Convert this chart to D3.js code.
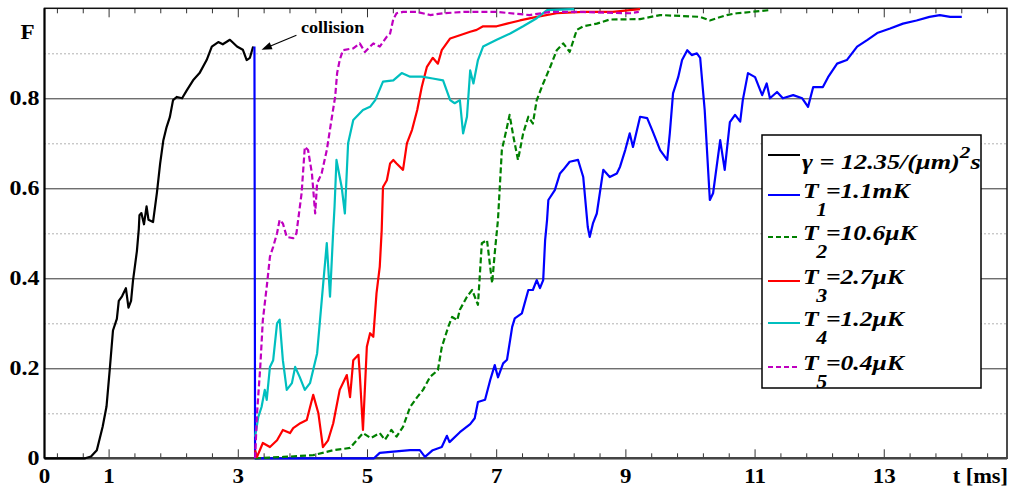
<!DOCTYPE html>
<html>
<head>
<meta charset="utf-8">
<script src="https://cdn.jsdelivr.net/npm/d3@7"></script>
<style>
  body { margin: 0; background: #fff; }
  text { font-family: "Liberation Serif", "Times New Roman", serif; font-weight: bold; }
</style>
</head>
<body>
<div id="chart"></div>
<script>
// tick labels
const xLabels = [0, 1, 3, 5, 7, 9, 11, 13];
const yLabels = [0, 0.2, 0.4, 0.6, 0.8];
const yMajorGrid = [0.2, 0.4, 0.6, 0.8];
const yMinorGrid = [0.1, 0.3, 0.5, 0.7, 0.9];

// curves: [t (ms), F]
const gammaCurve = [[0,0],[0.63,0],[0.72,0.004],[0.81,0.018],[0.9,0.07],[0.96,0.115],[1.01,0.197],[1.06,0.284],[1.12,0.31],[1.15,0.35],[1.2,0.36],[1.26,0.378],[1.3,0.335],[1.34,0.35],[1.37,0.395],[1.43,0.46],[1.46,0.51],[1.47,0.54],[1.5,0.545],[1.54,0.52],[1.58,0.56],[1.61,0.53],[1.68,0.525],[1.74,0.59],[1.79,0.655],[1.84,0.707],[1.89,0.736],[1.94,0.758],[1.99,0.796],[2.05,0.803],[2.13,0.8],[2.2,0.817],[2.3,0.84],[2.4,0.856],[2.51,0.885],[2.59,0.915],[2.69,0.925],[2.76,0.92],[2.87,0.93],[2.98,0.915],[3.07,0.908],[3.13,0.885],[3.18,0.89],[3.23,0.915]];

const t1Curve = [[3.25,0.915],[3.26,0],[5.1,0],[5.19,0.012],[5.4,0.015],[5.66,0.018],[5.81,0.018],[5.89,0.003],[6.01,0.018],[6.15,0.025],[6.23,0.05],[6.27,0.036],[6.43,0.058],[6.59,0.076],[6.66,0.089],[6.71,0.125],[6.82,0.13],[6.9,0.174],[6.97,0.207],[7.02,0.18],[7.1,0.211],[7.16,0.219],[7.24,0.292],[7.28,0.311],[7.39,0.322],[7.49,0.374],[7.56,0.374],[7.62,0.396],[7.67,0.378],[7.72,0.396],[7.75,0.485],[7.78,0.53],[7.8,0.574],[7.9,0.596],[7.98,0.633],[8.03,0.641],[8.13,0.659],[8.26,0.663],[8.34,0.625],[8.41,0.514],[8.44,0.492],[8.49,0.522],[8.55,0.544],[8.65,0.641],[8.75,0.625],[8.86,0.633],[8.91,0.648],[8.99,0.685],[9.06,0.722],[9.11,0.692],[9.22,0.759],[9.33,0.756],[9.42,0.725],[9.53,0.685],[9.64,0.663],[9.68,0.722],[9.73,0.811],[9.81,0.847],[9.87,0.885],[9.95,0.907],[10.02,0.896],[10.1,0.9],[10.15,0.89],[10.22,0.774],[10.3,0.574],[10.35,0.589],[10.46,0.707],[10.53,0.641],[10.61,0.747],[10.69,0.763],[10.77,0.748],[10.81,0.796],[10.89,0.856],[11,0.847],[11.11,0.807],[11.18,0.833],[11.23,0.8],[11.34,0.814],[11.43,0.8],[11.59,0.807],[11.73,0.8],[11.82,0.781],[11.9,0.825],[12.05,0.825],[12.13,0.847],[12.27,0.877],[12.42,0.885],[12.58,0.915],[12.74,0.93],[12.89,0.945],[13.09,0.955],[13.29,0.966],[13.5,0.973],[13.7,0.981],[13.86,0.985],[14.02,0.981],[14.2,0.981]];

const t2Curve = [[3.26,0],[3.7,0.003],[4.16,0.007],[4.47,0.018],[4.73,0.023],[4.93,0.056],[5.05,0.045],[5.19,0.056],[5.27,0.041],[5.37,0.063],[5.45,0.048],[5.55,0.07],[5.66,0.114],[5.77,0.136],[5.86,0.152],[5.97,0.181],[6.09,0.196],[6.15,0.247],[6.25,0.292],[6.31,0.314],[6.39,0.307],[6.43,0.33],[6.54,0.359],[6.62,0.374],[6.71,0.341],[6.77,0.478],[6.85,0.485],[6.93,0.389],[6.97,0.456],[7.02,0.53],[7.08,0.685],[7.16,0.736],[7.2,0.763],[7.26,0.714],[7.33,0.663],[7.41,0.722],[7.49,0.759],[7.56,0.744],[7.62,0.796],[7.72,0.833],[7.83,0.87],[7.93,0.907],[8.03,0.922],[8.13,0.903],[8.24,0.952],[8.34,0.96],[8.55,0.966],[8.75,0.975],[9.22,0.976],[9.53,0.985],[10.15,0.981],[10.3,0.973],[10.56,0.985],[10.72,0.989],[11.23,0.996]];

const t3Curve = [[3.26,0.018],[3.29,0.003],[3.38,0.034],[3.49,0.025],[3.6,0.04],[3.69,0.063],[3.8,0.056],[3.85,0.067],[3.96,0.078],[4.06,0.085],[4.16,0.141],[4.24,0.1],[4.31,0.025],[4.39,0.04],[4.47,0.078],[4.57,0.152],[4.68,0.185],[4.73,0.136],[4.78,0.218],[4.86,0.23],[4.88,0.189],[4.93,0.063],[4.99,0.248],[5.04,0.278],[5.09,0.27],[5.14,0.367],[5.19,0.426],[5.22,0.507],[5.24,0.603],[5.3,0.618],[5.35,0.655],[5.4,0.663],[5.45,0.655],[5.55,0.641],[5.61,0.7],[5.69,0.73],[5.77,0.774],[5.84,0.825],[5.92,0.87],[6.01,0.89],[6.09,0.877],[6.15,0.907],[6.28,0.933],[6.43,0.94],[6.59,0.948],[6.69,0.952],[6.79,0.96],[7,0.96],[7.16,0.966],[7.36,0.973],[7.62,0.981],[7.93,0.989],[8.34,0.992],[8.8,0.992],[9.06,0.996],[9.22,0.998]];

const t4Curve = [[3.26,0.048],[3.31,0.092],[3.36,0.114],[3.41,0.152],[3.44,0.13],[3.49,0.203],[3.54,0.218],[3.6,0.3],[3.64,0.308],[3.69,0.218],[3.75,0.152],[3.83,0.167],[3.88,0.203],[3.95,0.181],[4.03,0.152],[4.11,0.167],[4.22,0.233],[4.31,0.381],[4.37,0.478],[4.42,0.359],[4.47,0.507],[4.49,0.559],[4.52,0.663],[4.6,0.603],[4.65,0.544],[4.7,0.7],[4.78,0.752],[4.93,0.774],[5.04,0.781],[5.12,0.796],[5.24,0.837],[5.4,0.84],[5.53,0.856],[5.66,0.848],[5.84,0.848],[6.01,0.844],[6.17,0.84],[6.28,0.796],[6.35,0.789],[6.43,0.796],[6.48,0.722],[6.54,0.759],[6.59,0.862],[6.64,0.833],[6.71,0.885],[6.79,0.915],[7,0.93],[7.21,0.944],[7.41,0.96],[7.62,0.978],[7.78,0.996],[8.2,0.998]];

const t5Curve = [[3.26,0],[3.29,0.1],[3.34,0.203],[3.38,0.307],[3.44,0.381],[3.49,0.448],[3.54,0.47],[3.6,0.5],[3.64,0.53],[3.69,0.522],[3.75,0.492],[3.85,0.489],[3.9,0.5],[3.98,0.589],[4.03,0.692],[4.08,0.685],[4.14,0.633],[4.19,0.544],[4.22,0.611],[4.29,0.633],[4.37,0.685],[4.45,0.759],[4.5,0.804],[4.53,0.856],[4.57,0.885],[4.62,0.907],[4.78,0.911],[4.88,0.922],[4.96,0.903],[5.09,0.922],[5.19,0.915],[5.3,0.937],[5.35,0.944],[5.4,0.976],[5.45,0.989],[5.55,0.992],[5.77,0.992],[5.97,0.985],[6.18,0.989],[6.49,0.992],[7,0.992],[7.51,0.985],[7.83,0.992],[8.29,0.992],[9.06,0.989],[9.2,0.992]];

const seriesNames = ["gamma", "T1", "T2", "T3", "T4", "T5"];
const seriesData = [gammaCurve, t1Curve, t2Curve, t3Curve, t4Curve, t5Curve];
const seriesColors = ["#000000", "#0000ff", "#008000", "#ff0000", "#00bfbf", "#bf00bf"];
const seriesDashed = [false, false, true, false, false, true];
const legendValues = ["=1.1mK", "=10.6μK", "=2.7μK", "=1.2μK", "=0.4μK"];

// Layout
const margin = { top: 8.3, right: 3, bottom: 28.7, left: 44.5 };
const W = 1010, H = 487;
const width = W - margin.left - margin.right;
const height = H - margin.top - margin.bottom;

const svg = d3.select("#chart")
    .append("svg")
    .attr("width", W)
    .attr("height", H)
    .append("g")
    .attr("transform", `translate(${margin.left}, ${margin.top})`);

const x = d3.scaleLinear().domain([0, 14.9]).range([0, width]);
const y = d3.scaleLinear().domain([0, 1]).range([height, 0]);

// text in the picture is a bit stretched sideways
function wideText(parent, px, py, sx, size) {
    return parent.append("text")
        .attr("transform", `translate(${px}, ${py}) scale(${sx}, 1)`)
        .style("font-size", size + "px");
}

// dotted minor grid
svg.append("g")
    .call(d3.axisLeft(y).tickValues(yMinorGrid).tickSize(-width).tickFormat(""))
    .call(g => g.select(".domain").remove())
    .selectAll(".tick line")
    .attr("stroke", "#666")
    .attr("stroke-dasharray", "1,3");

// solid major grid
svg.append("g")
    .call(d3.axisLeft(y).tickValues(yMajorGrid).tickSize(-width).tickFormat(""))
    .call(g => g.select(".domain").remove())
    .selectAll(".tick line")
    .attr("stroke", "#333");

// x ticks every 0.4 ms, major ones at the labels
const xTicks = d3.range(0.2, 14.9, 0.4).map(d => +d.toFixed(1));
const isMajor = d => xLabels.includes(d);
svg.append("g")
    .selectAll("line")
    .data(xTicks)
    .enter().append("line")
    .attr("x1", d => x(d)).attr("x2", d => x(d))
    .attr("y1", height).attr("y2", d => height - (isMajor(d) ? 9 : 5))
    .attr("stroke", "#333");
svg.append("g")
    .selectAll("line")
    .data(xTicks)
    .enter().append("line")
    .attr("x1", d => x(d)).attr("x2", d => x(d))
    .attr("y1", 0).attr("y2", d => isMajor(d) ? 9 : 5)
    .attr("stroke", "#333");

// frame
svg.append("rect")
    .attr("width", width)
    .attr("height", height)
    .attr("fill", "none")
    .attr("stroke", "#111")
    .attr("stroke-width", 1.5);
svg.append("line")
    .attr("x1", 0).attr("x2", width)
    .attr("y1", height).attr("y2", height)
    .attr("stroke", "#444").attr("stroke-width", 2.5);
svg.append("line")
    .attr("x1", 0).attr("x2", 0)
    .attr("y1", 0).attr("y2", height)
    .attr("stroke", "#000").attr("stroke-width", 2);

// tick labels
xLabels.forEach(d => {
    wideText(svg, x(d), height + 25, 1.15, 20)
        .attr("text-anchor", "middle")
        .text(d);
});
wideText(svg, width + 1, height + 25, 1.12, 20)
    .attr("text-anchor", "end")
    .text("t [ms]");

yLabels.forEach(d => {
    wideText(svg, -5, y(d) + 7, 1.2, 20)
        .attr("text-anchor", "end")
        .text(d === 0 ? "0" : d3.format(".1f")(d));
});

wideText(svg, -17, 31, 1.1, 21)
    .attr("text-anchor", "middle")
    .text("F");

// curves
const line = d3.line().x(d => x(d[0])).y(d => y(d[1]));
seriesData.forEach((data, i) => {
    svg.append("path")
        .datum(data)
        .attr("fill", "none")
        .attr("stroke", seriesColors[i])
        .attr("stroke-width", 2.2)
        .attr("stroke-linejoin", "round")
        .attr("stroke-dasharray", seriesDashed[i] ? "6,3" : null)
        .attr("d", line);
});

// collision annotation
const arrowTail = [3.9, 0.94];
const arrowTip = [3.36, 0.908];
svg.append("line")
    .attr("x1", x(arrowTail[0])).attr("y1", y(arrowTail[1]))
    .attr("x2", x(arrowTip[0]) + 6).attr("y2", y(arrowTip[1]) - 2.5)
    .attr("stroke", "#000").attr("stroke-width", 1.2);
{
    const tx = x(arrowTip[0]), ty = y(arrowTip[1]);
    const ang = Math.atan2(y(arrowTail[1]) - ty, x(arrowTail[0]) - tx);
    const len = 11, spread = 0.35;
    const p1 = [tx + len * Math.cos(ang - spread), ty + len * Math.sin(ang - spread)];
    const p2 = [tx + len * Math.cos(ang + spread), ty + len * Math.sin(ang + spread)];
    svg.append("path")
        .attr("d", `M${tx},${ty}L${p1[0]},${p1[1]}L${p2[0]},${p2[1]}Z`)
        .attr("fill", "#000");
}
wideText(svg, x(3.97), y(0.946), 1.13, 16).text("collision");

// legend
const legend = svg.append("g").attr("transform", `translate(${762 - margin.left}, ${135 - margin.top})`);
legend.append("rect")
    .attr("width", 219)
    .attr("height", 253)
    .attr("fill", "#fff")
    .attr("stroke", "#000")
    .attr("stroke-width", 1.5);

const legendY = [20, 60, 102, 146, 188, 232];
seriesNames.forEach((name, i) => {
    const g = legend.append("g").attr("transform", `translate(0, ${legendY[i]})`);
    g.append("line")
        .attr("x1", 6).attr("x2", 38)
        .attr("stroke", seriesColors[i])
        .attr("stroke-width", 2)
        .attr("stroke-dasharray", seriesDashed[i] ? "5,3" : null);
    if (i === 0) {
        const t = wideText(g, 40, 14, 1.25, 21).style("font-style", "italic");
        t.append("tspan").text("γ  = 12.35/(μm)");
        t.append("tspan").attr("dy", -11).style("font-size", "17px").text("2");
        t.append("tspan").attr("dy", 11).text("s");
    } else {
        const t = wideText(g, 41, 3, 1.22, 21).style("font-style", "italic");
        t.append("tspan").text("T");
        t.append("tspan").attr("dy", 18).attr("dx", -2).style("font-size", "18px").text(i);
        t.append("tspan").attr("dy", -18).attr("dx", -1).text(legendValues[i - 1]);
    }
});
</script>
</body>
</html>
